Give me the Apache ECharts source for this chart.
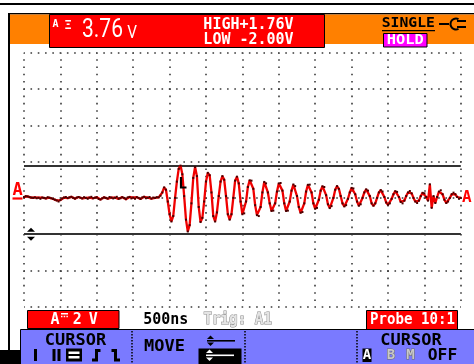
<!DOCTYPE html>
<html>
<head>
<meta charset="utf-8">
<script src="https://cdn.jsdelivr.net/npm/echarts@6/dist/echarts.min.js"></script>
<style>
  html, body { margin: 0; padding: 0; background: #fff; }
  #scope { width: 474px; height: 364px; }
</style>
</head>
<body>
<div id="scope"></div>
<script>
// Captured record, input A, one sample every 25 ns (volts)
const sampleIntervalNs = 25;
const waveformVolts = [
  0.05, 0.1, 0.08, 0.04, 0.02, 0.0, 0.03, -0.02, 0.01, -0.05, 0.02, 0.0, -0.03, 0.04, 0.01, -0.02, -0.06, -0.1, -0.14, -0.2,
  -0.12, -0.03, 0.02, 0.05, -0.01, 0.03, 0.06, 0.0, -0.04, 0.02, 0.05, 0.01, -0.03, 0.04, 0.0, -0.05, 0.02, 0.06, -0.02, 0.01,
  0.04, -0.06, -0.09, -0.02, 0.03, 0.0, -0.04, 0.05, 0.02, -0.03, 0.01, 0.06, -0.05, -0.02, 0.04, 0.0, -0.07, 0.03, 0.05, -0.03,
  0.02, -0.05, 0.04, 0.0, -0.06, 0.03, 0.06, -0.02, 0.01, 0.05, -0.04, 0.02, 0.0, 0.04,
  0.03, 0.12, 0.3, 0.58, 0.45, -0.2,
  -0.9, -1.3, -1.0, 0.0, 0.9, 1.6, 1.78, 1.3, 0.1, -1.2,
  -1.85, -1.5, -0.3, 1.1, 1.7, 1.2, -0.5, -1.33, -1.1, -0.2,
  0.9, 1.38, 1.25, 0.3, -1.0, -1.3, -0.8, 0.1, 0.9, 1.2,
  1.0, 0.1, -0.9, -1.2, -0.9, 0.0, 0.95, 1.17, 0.8, -0.2,
  -0.9, -0.85, -0.2, 0.6, 0.97, 0.95, 0.5, -0.4, -0.95, -1.0,
  -0.5, 0.3, 0.88, 0.8, 0.3, -0.3, -0.72, -0.7, -0.3, 0.35,
  0.8, 0.82, 0.4, -0.3, -0.72, -0.7, -0.2, 0.4, 0.74, 0.65,
  0.1, -0.5, -0.82, -0.78, -0.3, 0.35, 0.72, 0.73, 0.3, -0.3,
  -0.6, -0.55, -0.1, 0.4, 0.64, 0.6, 0.15, -0.35, -0.56, -0.45,
  0.0, 0.45, 0.65, 0.5, 0.1, -0.3, -0.47, -0.4, -0.05, 0.3,
  0.55, 0.52, 0.2, -0.2, -0.43, -0.35, 0.0, 0.3, 0.47, 0.4,
  0.1, -0.3, -0.43, -0.3, 0.0, 0.3, 0.43, 0.35, 0.05, -0.25,
  -0.38, -0.3, -0.05, 0.2, 0.37, 0.33, 0.05, -0.22, -0.3, -0.15,
  0.1, 0.3, 0.38, 0.25, 0.0, -0.2, -0.28, -0.15, 0.1, 0.28,
  0.25, 0.05, -0.15, 0.75, -0.55, 0.1, -0.28, 0.05, 0.35, 0.42,
  0.2, -0.1, -0.28, -0.2, 0.0, 0.2, 0.29, 0.2, 0.05, -0.05, 0.0
];

// Horizontal cursors: upper (HIGH) and lower (LOW), volts
const cursorLevelsV = [1.76, -2.00];

// Screen scales: 12 time divisions, 7 voltage divisions
const timeRangeNs = [0, 6000];
const timePerDivNs = 500;
const voltRange = [-6, 8];
const voltsPerDiv = 2;

// Status texts
const timebaseLabel = '500ns';
const triggerLabel = 'Trig: A1';
const probeLabel = 'Probe 10:1';
const acquisitionMode = 'SINGLE';
const holdLabel = 'HOLD';

const MONO = '"DejaVu Sans Mono", monospace';
const RED = '#ff0000';
const ORANGE = '#ff8000';
const MENU_BLUE = '#7a7aff';

const chart = echarts.init(document.getElementById('scope'), null, { renderer: 'canvas' });

const trace = waveformVolts.map((v, i) => [i * sampleIntervalNs, v]);
const dotted = { type: [1.6, 5.68], dashOffset: 0.8, color: '#3a3a3a', width: 1.6 };

function txt(cx, cy, s, size, fill, o) {
  o = o || {};
  return {
    type: 'text', x: cx, y: cy, scaleX: o.k || 1, z: 100,
    style: {
      text: s, x: 0, y: 0, align: o.align || 'center', verticalAlign: 'middle',
      font: (o.weight || 'bold') + ' ' + size + 'px ' + (o.family || MONO),
      fill: fill, stroke: o.stroke || null, lineWidth: o.lw || 0
    }
  };
}
function rect(x, y, w, h, fill, stroke, lw) {
  return { type: 'rect', z: 90, shape: { x: x, y: y, width: w, height: h },
    style: { fill: fill, stroke: stroke || null, lineWidth: lw || 0 } };
}
function poly(points, stroke, lw) {
  return { type: 'polyline', z: 100, shape: { points: points },
    style: { stroke: stroke, lineWidth: lw, fill: null } };
}
function tri(points, fill) {
  return { type: 'polygon', z: 100, shape: { points: points }, style: { fill: fill } };
}
function vdots(x, y1, y2) {
  return { type: 'line', z: 95, shape: { x1: x, y1: y1, x2: x, y2: y2 },
    style: { stroke: '#000', lineWidth: 1.5, lineDash: [1.5, 1.5] } };
}

chart.setOption({
  animation: false,
  backgroundColor: '#fff',
  grid: { left: 24, top: 52.7, width: 436.8, height: 254.1, containLabel: false },
  xAxis: {
    type: 'value', min: timeRangeNs[0], max: timeRangeNs[1], interval: timePerDivNs,
    axisLine: { show: false }, axisTick: { show: false }, axisLabel: { show: false },
    splitLine: { show: true, showMinLine: true, showMaxLine: true, lineStyle: dotted }
  },
  yAxis: {
    type: 'value', min: voltRange[0], max: voltRange[1], interval: voltsPerDiv,
    axisLine: { show: false }, axisTick: { show: false }, axisLabel: { show: false },
    splitLine: { show: true, showMinLine: true, showMaxLine: true, lineStyle: dotted }
  },
  series: [{
    type: 'line',
    data: trace,
    showSymbol: true,
    symbol: 'rect',
    symbolSize: 2,
    itemStyle: { color: '#4a0000' },
    lineStyle: { color: '#f00000', width: 2.3 },
    silent: true,
    z: 5,
    markLine: {
      silent: true,
      symbol: 'none',
      label: { show: false },
      lineStyle: { color: '#333', width: 2, type: 'solid' },
      data: cursorLevelsV.map(v => ({ yAxis: v }))
    }
  }]
});

// Screen furniture, readouts and markers
const zeroY = chart.convertToPixel({ gridIndex: 0 }, [0, 0])[1];
const lowY = chart.convertToPixel({ gridIndex: 0 }, [0, cursorLevelsV[1]])[1];
const rightX = chart.convertToPixel({ gridIndex: 0 }, [timeRangeNs[1], 0])[0];

const high = cursorLevelsV[0], low = cursorLevelsV[1];
const fmt = v => (v >= 0 ? '+' : '-') + Math.abs(v).toFixed(2) + 'V';
const delta = (high - low).toFixed(2);

const g = [];
// header band
g.push(rect(0, 3, 474, 2, '#000'));
g.push(rect(8, 13, 466, 1.5, '#000'));
g.push(rect(8, 13, 2, 337, '#000'));
g.push(rect(10, 14.5, 464, 29.5, ORANGE));
g.push(rect(49.5, 14.5, 275, 33, RED, '#000', 1));
g.push(txt(55.5, 24, 'A', 10, '#fff'));
g.push(txt(68, 26, 'Ξ', 12, '#fff'));
g.push(txt(102.5, 30.5, delta, 25, '#fff', { family: 'Roboto', weight: 'normal', k: 0.84 }));
g.push(txt(132, 33, 'V', 18, '#fff', { family: 'Roboto', weight: 'normal', k: 0.85 }));
g.push(txt(248.5, 24.7, 'HIGH' + fmt(high), 15, '#fff'));
g.push(txt(248.5, 40, 'LOW ' + fmt(low), 15, '#fff'));
g.push(txt(408.3, 23.5, acquisitionMode, 14, '#000', { k: 1.05 }));
g.push(rect(382, 30, 53, 1.2, '#000'));
// plug symbol
g.push(poly([[439, 24], [449, 24]], '#000', 2));
g.push({ type: 'arc', z: 100, shape: { cx: 456, cy: 24, r: 5.5, startAngle: Math.PI * 0.35, endAngle: Math.PI * 1.65 },
  style: { stroke: '#000', lineWidth: 2, fill: null } });
g.push(poly([[457, 21], [466, 21]], '#000', 2));
g.push(poly([[457, 27], [466, 27]], '#000', 2));
g.push(rect(383.5, 33.5, 43.5, 13.5, '#ff00ff', '#000', 1));
g.push(txt(405.3, 40.5, holdLabel, 14, '#fff', { k: 1.1 }));

// channel A ground markers and cursor handle
g.push(txt(17.5, 190.5, 'A', 17, RED));
g.push(rect(12.5, zeroY - 0.5, 10, 2.2, RED));
g.push(txt(rightX + 6, zeroY, 'A', 16, RED));
g.push(tri([[27, lowY - 2.5], [31, lowY - 6.5], [35, lowY - 2.5]], '#000'));
g.push(tri([[27, lowY + 2.5], [35, lowY + 2.5], [31, lowY + 6.5]], '#000'));
// trigger marker
g.push(poly([[181, 177], [181, 187.5], [186.5, 187.5]], '#000', 2.2));

// bottom status line
g.push(rect(27.5, 310.5, 91.5, 18, RED, '#000', 1));
g.push(txt(55, 320, 'A', 15, '#fff'));
g.push(rect(61, 313, 7, 1.5, '#fff'));
g.push({ type: 'line', z: 100, shape: { x1: 61, y1: 316.5, x2: 68, y2: 316.5 },
  style: { stroke: '#fff', lineWidth: 1.5, lineDash: [1.5, 1.2] } });
g.push(txt(77.2, 320, String(voltsPerDiv), 15, '#fff'));
g.push(txt(93.3, 320, 'V', 15, '#fff'));
g.push(txt(165.8, 320.5, timebaseLabel, 15, '#000'));
g.push(txt(237.7, 320.5, triggerLabel, 15, '#e4e4e4', { k: 0.95, stroke: '#8a8a8a', lw: 1 }));
g.push(rect(366.5, 310.5, 91, 19, RED, '#000', 1));
g.push(txt(412.5, 320, probeLabel, 15, '#fff', { k: 0.94 }));

// soft-key menu bar
g.push(rect(0, 350, 20, 14, '#000'));
g.push(rect(20.5, 329.5, 454, 35, MENU_BLUE, '#000', 1));
g.push(txt(75.5, 341, 'CURSOR', 16, '#000', { k: 1.06 }));
g.push(rect(34, 349, 3, 12, '#000'));
g.push(rect(52.5, 349, 3, 12, '#000'));
g.push(rect(57.5, 349, 3, 12, '#000'));
g.push(rect(66, 348.5, 16, 13, '#000'));
g.push(rect(68.5, 351.5, 11, 2.5, '#fff'));
g.push(rect(68.5, 356, 11, 2.5, '#fff'));
g.push(poly([[100.5, 350.5], [96.5, 350.5], [96.5, 360], [92, 360]], '#000', 3));
g.push(poly([[111.5, 350.5], [115.5, 350.5], [115.5, 360], [120, 360]], '#000', 3));
g.push(vdots(132, 331, 364));
g.push(vdots(245, 331, 364));
g.push(vdots(357, 331, 364));
g.push(txt(164.5, 347, 'MOVE', 16, '#000', { k: 1.06 }));
g.push(tri([[207, 339], [210.5, 335.5], [214, 339]], '#000'));
g.push(rect(207, 340, 28, 1.6, '#000'));
g.push(tri([[207, 342.5], [214, 342.5], [210.5, 346]], '#000'));
g.push(rect(198.5, 348.5, 43, 15.5, '#000'));
g.push(tri([[206, 353], [209.5, 349.5], [213, 353]], '#fff'));
g.push(rect(206, 354.5, 28, 1.6, '#fff'));
g.push(tri([[206, 357.5], [213, 357.5], [209.5, 361]], '#fff'));
g.push(txt(411, 341, 'CURSOR', 16, '#000', { k: 1.06 }));
g.push(rect(362.5, 348.5, 9, 13.5, '#000'));
g.push(txt(367, 355.5, 'A', 14, '#fff'));
g.push(txt(391, 355.5, 'B', 14, '#c8c8c8', { stroke: '#6a6a6a', lw: 1 }));
g.push(txt(410.5, 355.5, 'M', 14, '#c8c8c8', { stroke: '#6a6a6a', lw: 1 }));
g.push(txt(442.5, 355.5, 'OFF', 16, '#000', { k: 1.02 }));

chart.setOption({ graphic: { elements: g } });
</script>
</body>
</html>
